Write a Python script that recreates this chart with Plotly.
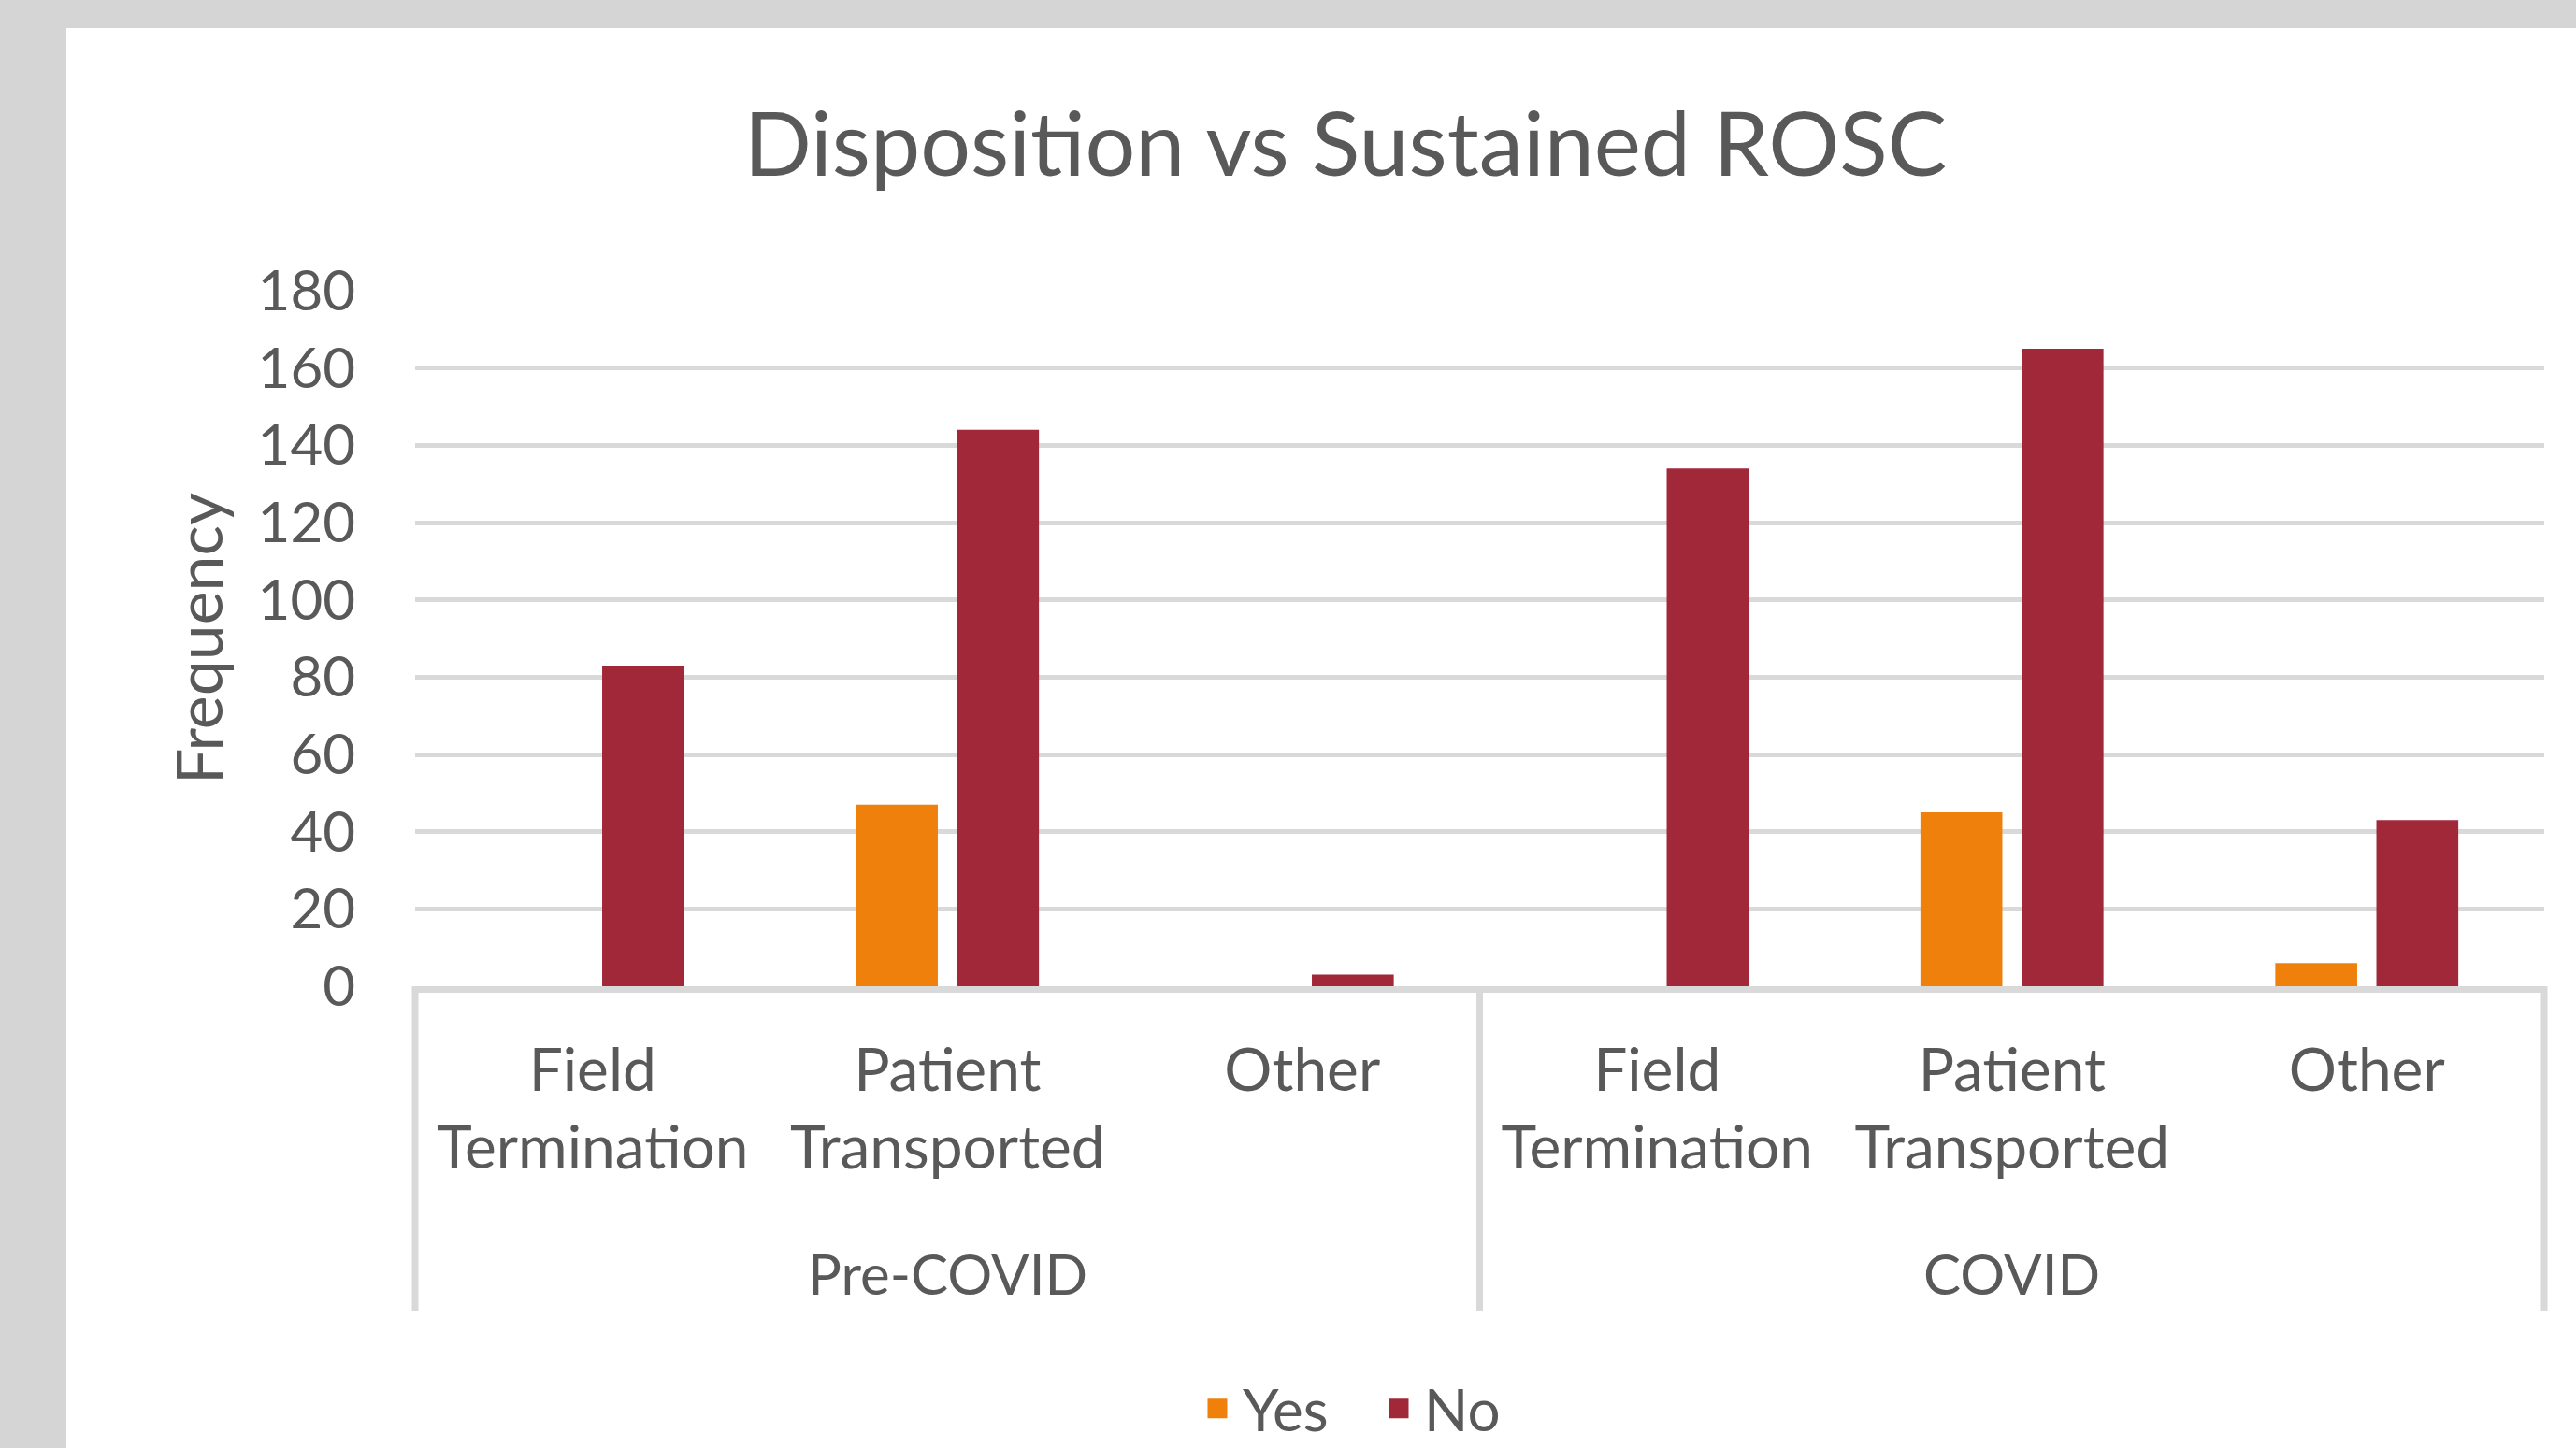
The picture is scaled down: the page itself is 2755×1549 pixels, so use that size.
import plotly.graph_objects as go

# ---- data ----
periods = ["Pre-COVID", "Pre-COVID", "Pre-COVID", "COVID", "COVID", "COVID"]
dispositions = ["Field<br>Termination", "Patient<br>Transported", "Other",
                "Field<br>Termination", "Patient<br>Transported", "Other"]
series_names = ["Yes", "No"]
yes_values = [0, 47, 0, 0, 45, 6]
no_values = [83, 144, 3, 134, 165, 43]
y_tick_values = [0, 20, 40, 60, 80, 100, 120, 140, 160, 180]

# ---- style ----
ORANGE = "#EF800B"
RED = "#A02838"
GRID = "#D9D9D9"
TEXT = "#595959"
BORDER = "#D5D5D5"
FONT = "Lato"

W, H = 2755, 1549
L, R, T, B = 444, 34, 311, 494
pw = W - L - R
ph = H - T - B

xpos = list(range(len(dispositions)))

fig = go.Figure()
for name, vals, col in zip(series_names, [yes_values, no_values], [ORANGE, RED]):
    fig.add_trace(go.Bar(name=name, x=xpos, y=vals, legendgroup=name, showlegend=False,
                         marker=dict(color=col, line=dict(width=0))))
    # legend entry with a larger square swatch
    fig.add_trace(go.Scatter(name=name, x=[None], y=[None], mode="markers",
                             legendgroup=name, showlegend=True, hoverinfo="skip",
                             marker=dict(symbol="square", size=16, color=col,
                                         line=dict(color=col, width=5))))

# white panel inside grey frame
fig.add_shape(type="rect", xref="paper", yref="paper", layer="below",
              x0=(71 - L) / pw, x1=(W + 50 - L) / pw,
              y0=-(B + 50) / ph, y1=((H - B) - 30) / ph,
              fillcolor="white", line=dict(width=0))

# group labels and dividers
groups = []
for i, p in enumerate(periods):
    if not groups or groups[-1][0] != p:
        groups.append([p, i, i])
    else:
        groups[-1][2] = i
n = len(periods)
div_bottom = (H - B - 1402) / ph
boundaries = [groups[0][1]] + [g[2] + 1 for g in groups]
for bnd in boundaries:
    fig.add_shape(type="line", xref="paper", yref="paper",
                  x0=bnd / n, x1=bnd / n, y0=0, y1=div_bottom,
                  line=dict(color=GRID, width=7))
for name, i0, i1 in groups:
    fig.add_annotation(text=name, xref="x", yref="paper", x=(i0 + i1) / 2,
                       y=(H - B - 1362) / ph, yanchor="middle", showarrow=False,
                       font=dict(size=60, color=TEXT, family=FONT))

fig.update_layout(
    width=W, height=H,
    paper_bgcolor=BORDER, plot_bgcolor="white",
    margin=dict(l=L, r=R, t=T, b=B, autoexpand=False),
    barmode="group", bargap=0.43, bargroupgap=0.19,
    font=dict(family=FONT, color=TEXT, size=60),
    title=dict(text="Disposition vs Sustained ROSC", xref="container", yref="container",
               x=1439 / W, xanchor="center", y=1 - 155 / H, yanchor="middle",
               font=dict(size=95, color=TEXT, family=FONT)),
    legend=dict(orientation="h", x=(1469 - L) / pw, xanchor="center",
                y=(H - B - 1507) / ph, yanchor="middle",
                font=dict(size=62, color=TEXT, family=FONT), itemsizing="trace",
                entrywidth=135, entrywidthmode="pixels",
                bgcolor="rgba(0,0,0,0)", itemwidth=44, tracegroupgap=0),
    showlegend=True,
)
fig.update_yaxes(range=[0, 180], tickvals=y_tick_values, showgrid=True,
                 gridcolor=GRID, gridwidth=5, zeroline=False, showline=False,
                 ticks="", ticklabelstandoff=63,
                 tickfont=dict(size=60, color=TEXT, family=FONT),
                 title=dict(text="Frequency", standoff=14,
                            font=dict(size=68, color=TEXT, family=FONT)))
fig.update_xaxes(range=[-0.5, n - 0.5], tickvals=xpos, ticktext=dispositions,
                 showgrid=False, zeroline=False,
                 showline=True, linecolor=GRID, linewidth=7,
                 ticks="", ticklabelstandoff=28,
                 tickfont=dict(size=64, color=TEXT, family=FONT))

fig.write_html("out.html", config={"displayModeBar": False},
               post_script="document.body.style.margin='0';document.body.style.padding='0';")
